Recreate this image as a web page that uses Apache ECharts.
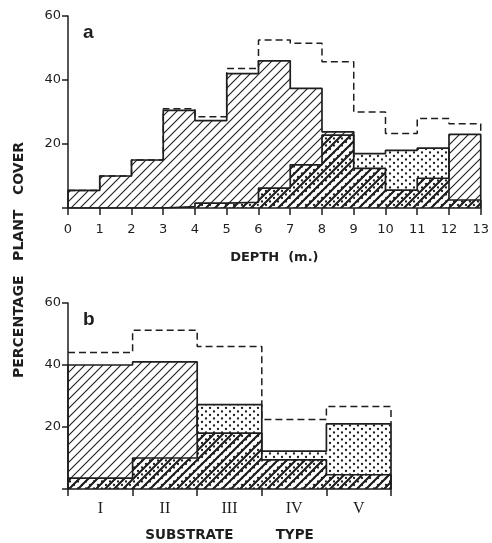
<!doctype html>
<html>
<head>
<meta charset="utf-8">
<title>plant cover</title>
<script src="https://cdn.jsdelivr.net/npm/echarts@6/dist/echarts.min.js"></script>
<style>
html,body{margin:0;padding:0;background:#fff;}
#main{width:492px;height:543px;}
</style>
</head>
<body>
<div id="main"></div>
<script>
// panel a : cover per 1 m depth band (0-13 m)
var depthTicks = [0,1,2,3,4,5,6,7,8,9,10,11,12,13];
var depthHatched = [5.5, 10, 15, 30.5, 27.3, 42, 46, 37.4, 23.8, 12.4, 5.6, 9.3, 23];
var depthDotted  = [0, 0, 0, 0.4, 1.5, 1.8, 6.2, 13.5, 22.8, 17, 18, 18.7, 2.5];
var depthTotal   = [5.5, 10, 15, 31, 28.5, 43.6, 52.5, 51.5, 45.7, 30, 23.3, 28, 26.3];

// panel b : cover per substrate type
var substrateTypes    = ['I','II','III','IV','V'];
var substrateHatched  = [40, 41, 18, 9.4, 4.6];
var substrateDotted   = [3.5, 10, 27.2, 12.2, 21];
var substrateTotal    = [44, 51.2, 46, 22.4, 26.6];

var yTicks = [0, 20, 40, 60];

var ink = '#1e1e1e';
var sans = 'DejaVu Sans';

function makePattern(kind){
    var c = document.createElement('canvas');
    var ctx;
    if(kind == 'hatch' || kind == 'heavy'){
        var s = 9;
        c.width = s; c.height = s;
        ctx = c.getContext('2d');
        ctx.strokeStyle = ink;
        ctx.lineWidth = kind == 'heavy' ? 2 : 1.1;
        ctx.beginPath();
        ctx.moveTo(0, s); ctx.lineTo(s, 0);
        ctx.moveTo(-1, 1); ctx.lineTo(1, -1);
        ctx.moveTo(s-1, s+1); ctx.lineTo(s+1, s-1);
        ctx.stroke();
    } else {
        c.width = 8; c.height = 7;
        ctx = c.getContext('2d');
        ctx.fillStyle = ink;
        ctx.beginPath(); ctx.arc(2, 2, 1.15, 0, Math.PI*2); ctx.fill();
        ctx.beginPath(); ctx.arc(6, 5.5, 1.15, 0, Math.PI*2); ctx.fill();
    }
    return {image: c, repeat: 'repeat'};
}
var hatchFill = makePattern('hatch');
var dotFill = makePattern('dots');
var heavyFill = makePattern('heavy');

// filled blocks, one per bin
function binFill(values, fill, axis){
    return {
        type: 'custom',
        xAxisIndex: axis, yAxisIndex: axis,
        silent: true, z: 1,
        data: values.map(function(v, i){ return [i, i+1, v]; }),
        encode: {x: [0, 1], y: 2},
        renderItem: function(params, api){
            var p0 = api.coord([api.value(0), api.value(2)]);
            var p1 = api.coord([api.value(1), 0]);
            return {
                type: 'rect',
                shape: {x: p0[0], y: p0[1], width: p1[0]-p0[0], height: p1[1]-p0[1]},
                style: {fill: fill, stroke: null}
            };
        }
    };
}

function overlap(a, b){
    return a.map(function(v, i){ return Math.min(v, b[i]); });
}

// step outline built from the bin values
function outline(values, axis, dashed, endValue){
    var pts = dashed ? [] : [[0, 0]];
    values.forEach(function(v, i){ pts.push([i, v]); });
    pts.push([values.length, endValue]);
    return {
        type: 'line', step: 'end',
        xAxisIndex: axis, yAxisIndex: axis,
        data: pts, symbol: 'none', silent: true, z: 3,
        lineStyle: {color: ink, width: dashed ? 1.5 : 1.7, type: dashed ? [7, 4] : 'solid'}
    };
}

function lastTop(a, b){ return Math.max(a[a.length-1], b[b.length-1]); }

var yAxisBase = {
    type: 'value', min: yTicks[0], max: yTicks[yTicks.length-1], interval: 20,
    splitLine: {show: false},
    axisLine: {show: true, lineStyle: {color: ink, width: 1.5}},
    axisTick: {show: true, length: 6, lineStyle: {color: ink, width: 1.5}},
    axisLabel: {
        color: ink, fontFamily: sans, fontSize: 13, margin: 7,
        formatter: function(v){ return v === 0 ? '' : v; }
    }
};

var myChart = echarts.init(document.getElementById('main'), null, {renderer: 'canvas'});
var option = {
    animation: false,
    backgroundColor: '#fff',
    grid: [
        {left: 68, top: 16, width: 417, height: 192},
        {left: 68, top: 303, width: 323, height: 188}
    ],
    xAxis: [
        {
            gridIndex: 0, type: 'value', min: depthTicks[0], max: depthTicks[depthTicks.length-1], interval: 1,
            splitLine: {show: false},
            axisLine: {lineStyle: {color: ink, width: 1.5}},
            axisTick: {length: 7, lineStyle: {color: ink, width: 1.5}},
            axisLabel: {color: ink, fontFamily: sans, fontSize: 13, margin: 15},
            name: 'DEPTH  (m.)', nameLocation: 'middle', nameGap: 43,
            nameTextStyle: {color: ink, fontFamily: sans, fontSize: 13, fontWeight: 'bold'}
        },
        {
            gridIndex: 1, type: 'value', min: 0, max: substrateTypes.length, interval: 1,
            position: 'bottom',
            splitLine: {show: false},
            axisLine: {lineStyle: {color: ink, width: 1.5}},
            axisTick: {length: 7, lineStyle: {color: ink, width: 1.5}},
            axisLabel: {show: false},
            name: 'SUBSTRATE         TYPE', nameLocation: 'middle', nameGap: 39,
            nameTextStyle: {color: ink, fontFamily: sans, fontSize: 13.5, fontWeight: 'bold'}
        },
        {
            gridIndex: 1, type: 'category', data: substrateTypes, position: 'bottom',
            axisLine: {show: false}, axisTick: {show: false}, splitLine: {show: false},
            axisLabel: {color: ink, fontFamily: 'Liberation Serif', fontSize: 16, margin: 12}
        }
    ],
    yAxis: [
        echarts.util.merge({gridIndex: 0}, yAxisBase),
        echarts.util.merge({gridIndex: 1}, yAxisBase)
    ],
    graphic: [
        {type: 'text', left: 83, top: 23, style: {text: 'a', font: 'bold 19px "Liberation Sans"', fill: ink}},
        {type: 'text', left: 83, top: 310, style: {text: 'b', font: 'bold 19px "Liberation Sans"', fill: ink}},
        {
            type: 'text', x: 19, y: 260, rotation: Math.PI/2,
            style: {text: 'PERCENTAGE   PLANT   COVER', font: 'bold 14px "DejaVu Sans"', fill: ink,
                    align: 'center', verticalAlign: 'middle'}
        }
    ],
    series: [
        binFill(depthHatched, hatchFill, 0),
        binFill(depthDotted, dotFill, 0),
        binFill(overlap(depthHatched, depthDotted), heavyFill, 0),
        outline(depthHatched, 0, false, 0),
        outline(depthDotted, 0, false, 0),
        outline(depthTotal, 0, true, lastTop(depthHatched, depthDotted)),

        binFill(substrateHatched, hatchFill, 1),
        binFill(substrateDotted, dotFill, 1),
        binFill(overlap(substrateHatched, substrateDotted), heavyFill, 1),
        outline(substrateHatched, 1, false, 0),
        outline(substrateDotted, 1, false, 0),
        outline(substrateTotal, 1, true, lastTop(substrateHatched, substrateDotted))
    ]
};
myChart.setOption(option);
</script>
</body>
</html>
